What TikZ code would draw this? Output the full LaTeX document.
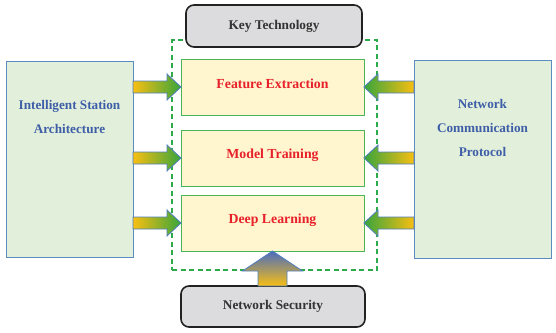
\documentclass[tikz,border=0pt]{standalone}
\usepackage{fontspec}
\setmainfont{Liberation Serif}
\usetikzlibrary{calc}
\definecolor{ktfill}{HTML}{DCDCDE}
\definecolor{ktline}{HTML}{222222}
\definecolor{ktext}{HTML}{333333}
\definecolor{dashgreen}{HTML}{2DAA4A}
\definecolor{yfill}{HTML}{FFF5CE}
\definecolor{yline}{HTML}{4CB457}
\definecolor{gfill}{HTML}{E2EFDA}
\definecolor{gline}{HTML}{5A8CC0}
\definecolor{redtxt}{HTML}{E8202A}
\definecolor{bluetxt}{HTML}{3F5EA8}
\definecolor{arrorange}{HTML}{F8BF12}
\definecolor{arrgreen}{HTML}{38A53C}
\definecolor{arrblue}{HTML}{4A6CC0}
\definecolor{arrline}{HTML}{4F7FBF}
\tikzset{
  greybox/.style={draw=ktline, line width=1.6pt, fill=ktfill, rounded corners=8pt,
    inner sep=0pt, outer sep=0pt, text=ktext, font=\bfseries\fontsize{13.3}{15}\selectfont},
  techbox/.style={draw=yline, line width=0.8pt, fill=yfill, inner sep=0pt, outer sep=0pt,
    minimum width=183pt, minimum height=56pt},
  techtxt/.style={text=redtxt, inner sep=0pt, font=\bfseries\fontsize{13.8}{15}\selectfont},
  sidebox/.style={draw=gline, line width=0.9pt, fill=gfill, inner sep=0pt, outer sep=0pt},
  sidetext/.style={text=bluetxt, align=center, font=\bfseries\fontsize{13.2}{24}\selectfont},
  blockarr/.style={draw=arrline, line width=0.8pt},
}
\newcommand\arrowLR[2]{% from #1 (left) to #2 (right), at y of #2
  \path[blockarr, left color=arrorange, right color=arrgreen]
    let \p1=(#1), \p2=(#2) in
    (\x1,{\y2+6pt}) -- ({\x2-14pt},{\y2+6pt}) -- ({\x2-14pt},{\y2+13pt}) -- (\x2,\y2)
    -- ({\x2-14pt},{\y2-13pt}) -- ({\x2-14pt},{\y2-6pt}) -- (\x1,{\y2-6pt}) -- cycle;}
\newcommand\arrowRL[2]{% from #1 (right) to #2 (left), at y of #2
  \path[blockarr, left color=arrgreen, right color=arrorange]
    let \p1=(#1), \p2=(#2) in
    (\x1,{\y2+6pt}) -- ({\x2+14pt},{\y2+6pt}) -- ({\x2+14pt},{\y2+13pt}) -- (\x2,\y2)
    -- ({\x2+14pt},{\y2-13pt}) -- ({\x2+14pt},{\y2-6pt}) -- (\x1,{\y2-6pt}) -- cycle;}
\begin{document}
\begin{tikzpicture}[x=1pt,y=-1pt]
\useasboundingbox (0,0) rectangle (556,332);
% dashed frame
\node[draw=dashgreen, line width=1.5pt, dash pattern=on 5pt off 3.5pt, inner sep=0pt,
  minimum width=205pt, minimum height=230pt] (frame) at (274.5,155) {};
% key technology
\node[greybox, minimum width=176pt, minimum height=42pt] (KT) at (274,26) {Key Technology};
% side boxes
\node[sidebox, minimum width=127pt, minimum height=196pt] (L) at (69.5,159) {};
\node[sidetext] (Ltxt) at (69.5,117) {Intelligent Station\\Architecture};
\node[sidebox, minimum width=137pt, minimum height=198pt] (R) at (482.5,159) {};
\node[sidetext] (Rtxt) at (482.5,127.5) {Network\\Communication\\Protocol};
% tech boxes
\node[techbox] (FE) at (272.5,87) {};
\node[techtxt] (FEt) at ([yshift=3pt]FE.center) {Feature Extraction};
\node[techbox] (MT) at (272.5,158) {};
\node[techtxt] (MTt) at ([yshift=3pt]MT.center) {Model Training};
\node[techbox] (DL) at (272.5,223) {};
\node[techtxt] (DLt) at ([yshift=3pt]DL.center) {Deep Learning};
% network security
\node[greybox, minimum width=184pt, minimum height=41pt] (NS) at (273,306.5) {Network Security};
% arrows left
\arrowLR{L.east}{FE.west}
\arrowLR{L.east}{MT.west}
\arrowLR{L.east}{DL.west}
% arrows right
\arrowRL{R.west}{FE.east}
\arrowRL{R.west}{MT.east}
\arrowRL{R.west}{DL.east}
% bottom arrow
\path[blockarr, top color=arrblue, bottom color=arrorange]
  let \p1=(NS.north), \p2=(DL.south) in
  ({\x2-14.5pt},\y1) -- ({\x2-14.5pt},{\y2-20pt}) -- ({\x2-30pt},{\y2-20pt}) -- (\x2,\y2)
  -- ({\x2+30pt},{\y2-20pt}) -- ({\x2+14.5pt},{\y2-20pt}) -- ({\x2+14.5pt},\y1) -- cycle;
\end{tikzpicture}
\end{document}
